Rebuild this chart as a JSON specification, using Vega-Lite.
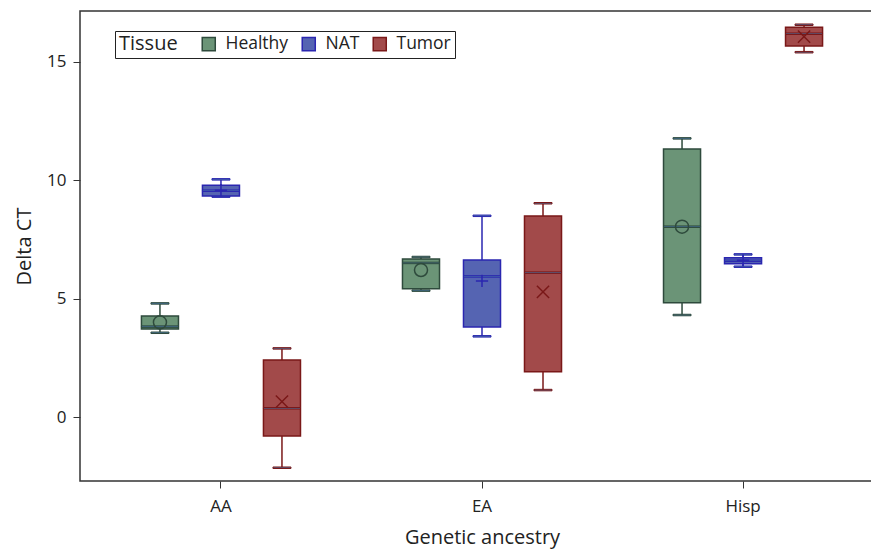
{
  "$schema": "https://vega.github.io/schema/vega-lite/v6.json",
  "autosize": {"type": "none"},
  "padding": {"left": 80, "top": 11, "right": 0, "bottom": 69},
  "width": 804,
  "height": 470,
  "background": "white",
  "config": {
    "font": "Open Sans",
    "view": {"stroke": "#333333", "strokeWidth": 1.5},
    "axis": {"grid": false, "domain": false, "tickColor": "#333333", "tickSize": 7, "tickWidth": 1, "labelFontSize": 17, "labelColor": "#222222", "titleFontSize": 20, "titleFontWeight": "normal", "titleColor": "#222222"}
  },
  "data": {
    "values": [
      {"anc": "AA", "tissue": "Healthy", "lo": 3.56, "q1": 3.72, "med": 3.82, "q3": 4.27, "hi": 4.80, "mean": 4.00},
      {"anc": "AA", "tissue": "NAT", "lo": 9.31, "q1": 9.34, "med": 9.56, "q3": 9.79, "hi": 10.04, "mean": 9.58},
      {"anc": "AA", "tissue": "Tumor", "lo": -2.14, "q1": -0.80, "med": 0.37, "q3": 2.41, "hi": 2.90, "mean": 0.65},
      {"anc": "EA", "tissue": "Healthy", "lo": 5.34, "q1": 5.42, "med": 6.51, "q3": 6.68, "hi": 6.76, "mean": 6.21},
      {"anc": "EA", "tissue": "NAT", "lo": 3.41, "q1": 3.80, "med": 5.94, "q3": 6.63, "hi": 8.50, "mean": 5.75},
      {"anc": "EA", "tissue": "Tumor", "lo": 1.14, "q1": 1.91, "med": 6.10, "q3": 8.49, "hi": 9.03, "mean": 5.29},
      {"anc": "Hisp", "tissue": "Healthy", "lo": 4.31, "q1": 4.83, "med": 8.04, "q3": 11.32, "hi": 11.77, "mean": 8.04},
      {"anc": "Hisp", "tissue": "NAT", "lo": 6.35, "q1": 6.48, "med": 6.60, "q3": 6.73, "hi": 6.87, "mean": 6.62},
      {"anc": "Hisp", "tissue": "Tumor", "lo": 15.41, "q1": 15.67, "med": 16.19, "q3": 16.46, "hi": 16.57, "mean": 16.07}
    ]
  },
  "encoding": {
    "x": {"field": "anc", "type": "nominal", "title": "Genetic ancestry",
          "scale": {"paddingInner": 0, "paddingOuter": 0.04},
          "axis": {"labelAngle": 0, "labelPadding": 10, "titlePadding": 13}},
    "xOffset": {"field": "tissue", "type": "nominal", "scale": {"domain": ["Healthy", "NAT", "Tumor"], "paddingInner": 0.393, "paddingOuter": 0.836}},
    "stroke": {"field": "tissue", "type": "nominal", "title": "Tissue",
               "scale": {"domain": ["Healthy", "NAT", "Tumor"], "range": ["#2e4a3c", "#2a26b0", "#7a1818"]},
               "legend": {"orient": "none", "legendX": 35, "legendY": 20, "direction": "horizontal", "titleOrient": "left",
                          "symbolType": "square", "symbolSize": 170, "symbolStrokeWidth": 1.5, "symbolOpacity": 1,
                          "labelFontSize": 17.5, "titleFontSize": 20, "titleFontWeight": "normal", "titleColor": "#222222", "labelColor": "#222222",
                          "strokeColor": "#222222", "padding": 4, "columnPadding": 10, "labelOffset": 8, "titlePadding": 22}}
  },
  "layer": [
    {
      "mark": {"type": "rule", "strokeWidth": 1.5},
      "encoding": {
        "y": {"field": "lo", "type": "quantitative", "title": "Delta CT",
              "scale": {"domain": [-2.7, 17.15], "nice": false, "zero": false},
              "axis": {"values": [0, 5, 10, 15], "labelPadding": 7, "titlePadding": 12}},
        "y2": {"field": "hi"}
      }
    },
    {
      "mark": {"type": "tick", "size": 18, "thickness": 1.5, "opacity": 1},
      "encoding": {"y": {"field": "lo", "type": "quantitative"}}
    },
    {
      "mark": {"type": "tick", "size": 18, "thickness": 1.5, "opacity": 1},
      "encoding": {"y": {"field": "hi", "type": "quantitative"}}
    },
    {
      "mark": {"type": "bar", "strokeWidth": 1.5, "opacity": 1},
      "encoding": {
        "y": {"field": "q1", "type": "quantitative"},
        "y2": {"field": "q3"},
        "fill": {"field": "tissue", "type": "nominal", "title": "Tissue",
                 "scale": {"domain": ["Healthy", "NAT", "Tumor"], "range": ["#6b9477", "#5564b2", "#a24a4a"]},
                 "legend": {"orient": "none", "legendX": 35, "legendY": 20, "direction": "horizontal", "titleOrient": "left",
                          "symbolType": "square", "symbolSize": 170, "symbolStrokeWidth": 1.5, "symbolOpacity": 1,
                          "labelFontSize": 17.5, "titleFontSize": 20, "titleFontWeight": "normal", "titleColor": "#222222", "labelColor": "#222222",
                          "strokeColor": "#222222", "padding": 4, "columnPadding": 10, "labelOffset": 8, "titlePadding": 22}}
      }
    },
    {
      "mark": {"type": "tick", "size": 37, "thickness": 1.5, "opacity": 1},
      "encoding": {"y": {"field": "med", "type": "quantitative"}}
    },
    {
      "transform": [{"filter": "datum.tissue === 'Healthy'"}],
      "mark": {"type": "point", "shape": "circle", "filled": false, "size": 170, "strokeWidth": 1.5, "opacity": 1},
      "encoding": {"y": {"field": "mean", "type": "quantitative"}}
    },
    {
      "transform": [{"filter": "datum.tissue === 'NAT'"}],
      "mark": {"type": "point", "shape": "M-1,0H1M0,-1V1", "filled": false, "size": 150, "strokeWidth": 1.5, "opacity": 1},
      "encoding": {"y": {"field": "mean", "type": "quantitative"}}
    },
    {
      "transform": [{"filter": "datum.tissue === 'Tumor'"}],
      "mark": {"type": "point", "shape": "M-1,-1L1,1M-1,1L1,-1", "filled": false, "size": 150, "strokeWidth": 1.5, "opacity": 1},
      "encoding": {"y": {"field": "mean", "type": "quantitative"}}
    }
  ]
}
